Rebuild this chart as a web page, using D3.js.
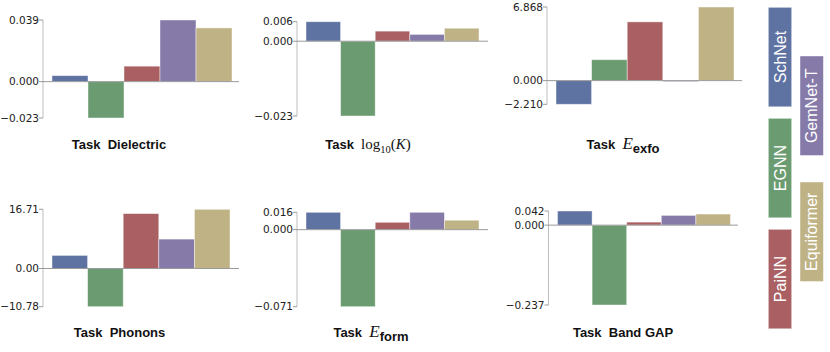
<!DOCTYPE html>
<html>
<head>
<meta charset="utf-8">
<script src="https://cdn.jsdelivr.net/npm/d3@7"></script>
<style>
  body { margin: 0; background: #fff; }
  svg { display: block; }
</style>
</head>
<body>
<svg id="chart" width="830" height="352"></svg>
<script>
// models, colours
var models = ["SchNet", "EGNN", "PaiNN", "GemNet-T", "Equiformer"];
var colors = ["#5f73a3", "#6b9c71", "#aa6062", "#857aa8", "#bfb386"];

// per task values
var dielectric = [0.0038, -0.023, 0.0098, 0.039, 0.034];
var logK       = [0.006, -0.023, 0.0031, 0.0021, 0.004];
var exfo       = [-2.21, 1.95, 5.48, -0.08, 6.868];
var phonons    = [3.7, -10.78, 15.5, 8.3, 16.71];
var form       = [0.016, -0.071, 0.0068, 0.016, 0.0087];
var bandGap    = [0.042, -0.237, 0.009, 0.029, 0.033];

// axis ticks: [max, zero, min]
var dielectricTicks = [0.039, 0, -0.023];
var logKTicks       = [0.006, 0, -0.023];
var exfoTicks       = [6.868, 0, -2.210];
var phononsTicks    = [16.71, 0, -10.78];
var formTicks       = [0.016, 0, -0.071];
var bandGapTicks    = [0.042, 0, -0.237];

var dielectricLabels = ["0.039", "0.000", "\u22120.023"];
var logKLabels       = ["0.006", "0.000", "\u22120.023"];
var exfoLabels       = ["6.868", "0.000", "\u22122.210"];
var phononsLabels    = ["16.71", "0.00", "\u221210.78"];
var formLabels       = ["0.016", "0.000", "\u22120.071"];
var bandGapLabels    = ["0.042", "0.000", "\u22120.237"];

var svg = d3.select("#chart");

var panels = [
	{values: dielectric, ticks: dielectricTicks, labels: dielectricLabels, title: "Dielectric",
	 axisX: 43, top: 20, bottom: 118, barL: 52, barR: 232, lineR: 239, titleX: 119, titleY: 149},
	{values: logK, ticks: logKTicks, labels: logKLabels, title: "logK",
	 axisX: 297, top: 21.7, bottom: 116, barL: 306, barR: 479, lineR: 488, titleX: 368, titleY: 149},
	{values: exfo, ticks: exfoTicks, labels: exfoLabels, title: "exfo",
	 axisX: 547, top: 7, bottom: 104.3, barL: 556, barR: 734, lineR: 742, titleX: 623, titleY: 149},
	{values: phonons, ticks: phononsTicks, labels: phononsLabels, title: "Phonons",
	 axisX: 43, top: 209.3, bottom: 306.7, barL: 52, barR: 230, lineR: 239, titleX: 119.5, titleY: 337},
	{values: form, ticks: formTicks, labels: formLabels, title: "form",
	 axisX: 297, top: 212.3, bottom: 306.7, barL: 306, barR: 479, lineR: 488, titleX: 371, titleY: 337},
	{values: bandGap, ticks: bandGapTicks, labels: bandGapLabels, title: "Band GAP",
	 axisX: 548.5, top: 211, bottom: 305, barL: 557.5, barR: 730.5, lineR: 738, titleX: 623, titleY: 337}
];

panels.forEach(function(p)
{
	var g = svg.append("g");

	var y = d3.scaleLinear()
		.domain([p.ticks[2], p.ticks[0]])
		.range([p.bottom, p.top]);

	var x = d3.scaleBand()
		.domain(models)
		.range([p.barL, p.barR])
		.padding(0);

	// vertical axis
	g.append("line")
		.attr("x1", p.axisX).attr("x2", p.axisX)
		.attr("y1", y(p.ticks[0])).attr("y2", y(p.ticks[2]))
		.attr("stroke", "#bdbdbd")
		.attr("stroke-width", 1);

	// bars
	g.selectAll("rect.bar")
		.data(p.values)
		.enter().append("rect")
		.attr("class", "bar")
		.attr("x", function(d, i) { return x(models[i]); })
		.attr("width", x.bandwidth())
		.attr("y", function(d) { return y(Math.max(0, d)); })
		.attr("height", function(d) { return Math.max(1, Math.abs(y(d) - y(0))); })
		.attr("fill", function(d, i) { return colors[i]; })
		.attr("stroke", "rgba(255,255,255,0.55)")
		.attr("stroke-width", 0.8);

	// zero line
	g.append("line")
		.attr("x1", p.axisX).attr("x2", p.lineR)
		.attr("y1", y(0)).attr("y2", y(0))
		.attr("stroke", "#9a9a9a")
		.attr("stroke-width", 1);

	// ticks + labels
	p.ticks.forEach(function(t, i)
	{
		g.append("line")
			.attr("x1", p.axisX - 4).attr("x2", p.axisX)
			.attr("y1", y(t)).attr("y2", y(t))
			.attr("stroke", "#9a9a9a");
		g.append("text")
			.attr("x", p.axisX - 4)
			.attr("y", y(t))
			.attr("dy", "0.35em")
			.attr("text-anchor", "end")
			.attr("font-family", "DejaVu Sans, sans-serif")
			.attr("font-size", 10.5)
			.attr("fill", "#222")
			.text(p.labels[i]);
	});

	// title
	var title = g.append("text")
		.attr("x", p.titleX)
		.attr("y", p.titleY)
		.attr("text-anchor", "middle")
		.attr("fill", "#111");

	title.append("tspan")
		.attr("font-family", "Liberation Sans, Arial, sans-serif")
		.attr("font-weight", "bold")
		.attr("font-size", 13)
		.text("Task\u00a0\u00a0");

	if (p.title == "logK")
	{
		var serif = "Liberation Serif, Times New Roman, serif";
		title.append("tspan").attr("font-family", serif).attr("font-size", 15).text("log");
		title.append("tspan").attr("font-family", serif).attr("font-size", 10.5).attr("dy", 4).text("10");
		title.append("tspan").attr("font-family", serif).attr("font-size", 15).attr("dy", -4).text("(");
		title.append("tspan").attr("font-family", serif).attr("font-size", 15).attr("font-style", "italic").text("K");
		title.append("tspan").attr("font-family", serif).attr("font-size", 15).text(")");
	}
	else if (p.title == "exfo" || p.title == "form")
	{
		title.append("tspan")
			.attr("font-family", "Liberation Serif, Times New Roman, serif")
			.attr("font-style", "italic")
			.attr("font-size", 17)
			.text("E");
		title.append("tspan")
			.attr("font-family", "Liberation Sans, Arial, sans-serif")
			.attr("font-weight", "bold")
			.attr("font-size", 13)
			.attr("dy", 4)
			.text(p.title);
	}
	else
	{
		title.append("tspan")
			.attr("font-family", "Liberation Sans, Arial, sans-serif")
			.attr("font-weight", "bold")
			.attr("font-size", 13)
			.text(p.title);
	}
});

// legend: two staggered columns of vertical swatches
var legendPos = [
	{x: 768.3, y: 7.3},
	{x: 768.3, y: 118.3},
	{x: 768.3, y: 229.3},
	{x: 800, y: 56},
	{x: 800, y: 182}
];
var legW = 23.4, legH = 99.5;

var legend = svg.append("g");
models.forEach(function(name, k)
{
	var pos = legendPos[k];
	legend.append("rect")
		.attr("x", pos.x).attr("y", pos.y)
		.attr("width", legW).attr("height", legH)
		.attr("fill", colors[k])
		.attr("stroke", "rgba(255,255,255,0.55)")
		.attr("stroke-width", 0.8);
	var cx = pos.x + legW / 2, cy = pos.y + legH / 2;
	legend.append("text")
		.attr("transform", "translate(" + cx + "," + cy + ") rotate(-90)")
		.attr("text-anchor", "middle")
		.attr("dy", "0.36em")
		.attr("font-family", "Liberation Sans, Arial, sans-serif")
		.attr("font-size", 16)
		.attr("fill", "#fff")
		.text(name);
});
</script>
</body>
</html>
